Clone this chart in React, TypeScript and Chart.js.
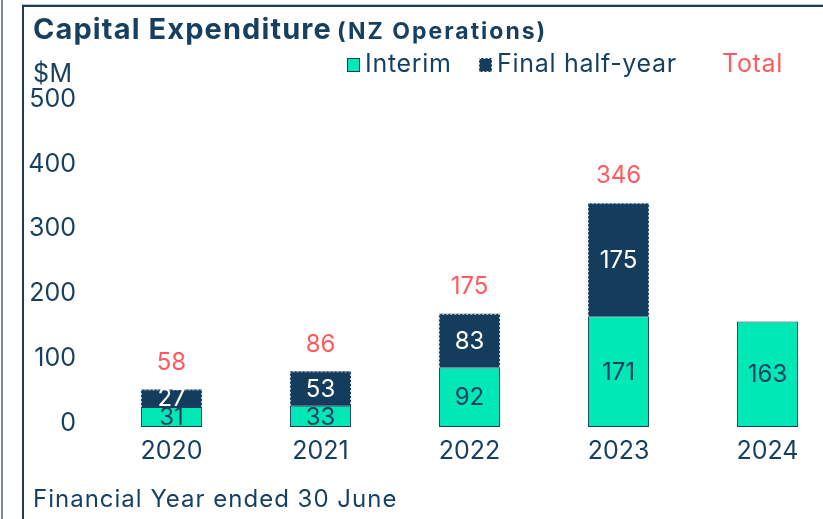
import React, { useEffect, useRef } from "react";
import { Chart, registerables } from "chart.js";

Chart.register(...registerables);

const categories = ["2020", "2021", "2022", "2023", "2024"];
const interim = [31, 33, 92, 171, 163];
const finalHalf = [27, 53, 83, 175, null];
const totals = [58, 86, 175, 346, null];
const yTicks = [0, 100, 200, 300, 400, 500];

const NAVY = "#173f5f";
const BAR_NAVY = "#143c5c";
const GREEN = "#00e8b5";
const RED = "#ff5a5f";
const FONT = "Inter, 'Noto Sans', sans-serif";

const labelsPlugin = {
  id: "barLabels",
  afterDatasetsDraw(chart: any) {
    const ctx = chart.ctx;
    ctx.save();
    const m1 = chart.getDatasetMeta(1);
    m1.data.forEach((el: any, i: number) => {
      if (finalHalf[i] == null) return;
      const { x, y, base, width } = el.getProps(["x", "y", "base", "width"], true);
      const l = x - width / 2 + 0.5;
      const r = x + width / 2 - 0.5;
      const t = y + 0.5;
      ctx.strokeStyle = "#c9d3dc";
      ctx.lineWidth = 1;
      ctx.setLineDash([2, 2]);
      ctx.beginPath();
      ctx.moveTo(l, base);
      ctx.lineTo(l, t);
      ctx.lineTo(r, t);
      ctx.lineTo(r, base);
      ctx.stroke();
    });
    ctx.setLineDash([]);
    ctx.textAlign = "center";
    ctx.textBaseline = "middle";
    ctx.font = `24px ${FONT}`;
    const m0 = chart.getDatasetMeta(0);
    m0.data.forEach((el: any, i: number) => {
      const { x, y, base } = el.getProps(["x", "y", "base"], true);
      ctx.fillStyle = NAVY;
      ctx.fillText(String(interim[i]), x, (y + base) / 2 + 1);
    });
    m1.data.forEach((el: any, i: number) => {
      if (finalHalf[i] == null) return;
      const { x, y, base } = el.getProps(["x", "y", "base"], true);
      ctx.fillStyle = "#ffffff";
      ctx.fillText(String(finalHalf[i]), x, (y + base) / 2 + 1);
    });
    m1.data.forEach((el: any, i: number) => {
      if (totals[i] == null) return;
      const { x } = el.getProps(["x"], true);
      const yTop = chart.scales.y.getPixelForValue(totals[i] as number);
      ctx.fillStyle = RED;
      ctx.fillText(String(totals[i]), x, yTop - 27);
    });
    ctx.restore();
  },
};

const decorPlugin = {
  id: "decor",
  afterDraw(chart: any) {
    const ctx = chart.ctx;
    ctx.save();
    ctx.textAlign = "left";
    ctx.textBaseline = "alphabetic";
    ctx.fillStyle = NAVY;
    ctx.font = `bold 29px ${FONT}`;
    ctx.letterSpacing = "1.1px";
    ctx.fillText("Capital Expenditure", 33, 39);
    ctx.font = `bold 23px ${FONT}`;
    ctx.letterSpacing = "2px";
    ctx.fillText("(NZ Operations)", 337, 39);
    ctx.letterSpacing = "0.5px";
    ctx.font = `25px ${FONT}`;
    ctx.fillText("$M", 33, 82);
    // legend
    ctx.fillStyle = GREEN;
    ctx.fillRect(347, 58, 13, 14);
    ctx.strokeStyle = NAVY;
    ctx.lineWidth = 1;
    ctx.strokeRect(347.5, 58.5, 12, 13);
    ctx.letterSpacing = "0.7px";
    ctx.fillStyle = NAVY;
    ctx.fillText("Interim", 365, 72);
    ctx.fillStyle = BAR_NAVY;
    ctx.fillRect(479, 58, 13, 14);
    ctx.strokeStyle = "#c9d3dc";
    ctx.setLineDash([2, 2]);
    ctx.strokeRect(479.5, 58.5, 12, 13);
    ctx.setLineDash([]);
    ctx.fillStyle = NAVY;
    ctx.fillText("Final half-year", 497, 72);
    ctx.fillStyle = RED;
    ctx.fillText("Total", 722, 72);
    ctx.fillStyle = NAVY;
    ctx.font = `24px ${FONT}`;
    ctx.letterSpacing = "1px";
    ctx.fillText("Financial Year ended 30 June", 33, 507);
    ctx.restore();
  },
};

export default function App() {
  const ref = useRef<HTMLCanvasElement | null>(null);
  useEffect(() => {
    if (!ref.current) return;
    const chart = new Chart(ref.current, {
      type: "bar",
      data: {
        labels: categories,
        datasets: [
          {
            label: "Interim",
            data: interim,
            backgroundColor: GREEN,
            borderColor: NAVY,
            borderWidth: 1,
            borderSkipped: false,
            barPercentage: 0.41,
            categoryPercentage: 1,
          },
          {
            label: "Final half-year",
            data: finalHalf,
            backgroundColor: BAR_NAVY,
            borderWidth: 0,
            barPercentage: 0.41,
            categoryPercentage: 1,
          },
        ],
      },
      options: {
        responsive: false,
        animation: false,
        devicePixelRatio: 1,
        layout: { padding: { left: 0, top: 103.5, right: 0, bottom: 52 } },
        plugins: { legend: { display: false }, tooltip: { enabled: false } },
        scales: {
          x: {
            stacked: true,
            grid: { display: false, drawTicks: false },
            border: { display: false },
            ticks: { color: NAVY, font: { family: FONT, size: 25 }, padding: 9 },
            afterFit: (s: any) => {
              s.height = 40;
            },
          },
          y: {
            stacked: true,
            min: 0,
            max: 500,
            afterBuildTicks: (s: any) => {
              s.ticks = yTicks.map((v) => ({ value: v }));
            },
            grid: { display: false, drawTicks: false },
            border: { display: false },
            ticks: { color: NAVY, font: { family: FONT, size: 25 }, padding: 21, labelOffset: -4 },
            afterFit: (s: any) => {
              s.width = 97;
            },
          },
        },
      },
      plugins: [labelsPlugin, decorPlugin],
    });
    return () => chart.destroy();
  }, []);

  return (
    <div style={{ position: "absolute", left: 0, top: 0, width: 823, height: 519, overflow: "hidden", background: "#fff" }}>
      <canvas ref={ref} width={842} height={519} style={{ position: "absolute", left: 0, top: 0, width: 842, height: 519 }} />
      <div style={{ position: "absolute", left: 1, top: 0, width: 2, height: 519, background: "#7a8ea2" }} />
      <div style={{ position: "absolute", left: 22, top: 4, width: 801, height: 1, background: "#b7c2cc" }} />
      <div style={{ position: "absolute", left: 22, top: 5, width: 801, height: 2, background: "#1d3c5a" }} />
      <div style={{ position: "absolute", left: 22, top: 5, width: 2, height: 514, background: "#1d3c5a" }} />
    </div>
  );
}
